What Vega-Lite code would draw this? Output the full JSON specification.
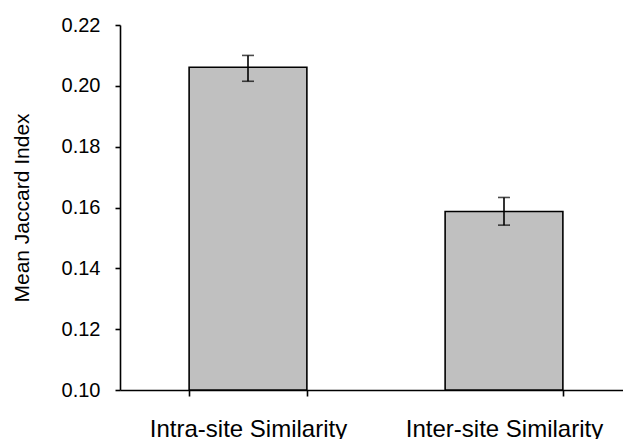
{
  "$schema": "https://vega.github.io/schema/vega-lite/v6.json",
  "width": 503,
  "height": 365,
  "autosize": {"type": "none"},
  "padding": {"left": 120, "top": 25, "right": 0, "bottom": 49},
  "background": "white",
  "data": {
    "values": [
      {"category": "Intra-site Similarity", "mean": 0.2061, "lo": 0.2015, "hi": 0.2100},
      {"category": "Inter-site Similarity", "mean": 0.1587, "lo": 0.1542, "hi": 0.1633}
    ]
  },
  "encoding": {
    "x": {
      "field": "category",
      "type": "nominal",
      "sort": null,
      "scale": {"range": [0, 512], "paddingInner": 0.54, "paddingOuter": 0.27},
      "axis": {
        "title": null,
        "labelAngle": 0,
        "tickBand": "extent",
        "tickSize": 6,
        "labelPadding": 40,
        "labelFontSize": 24,
        "labelLimit": 0,
        "labelBaseline": "alphabetic"
      }
    }
  },
  "layer": [
    {
      "mark": {"type": "bar", "fill": "#C0C0C0", "stroke": "#000000", "strokeWidth": 1.6},
      "encoding": {
        "y": {
          "field": "mean",
          "type": "quantitative",
          "scale": {"domain": [0.1, 0.22], "nice": false, "zero": false},
          "axis": {
            "title": "Mean Jaccard Index",
            "values": [0.1, 0.12, 0.14, 0.16, 0.18, 0.2, 0.22],
            "format": ".2f",
            "tickSize": 5,
            "labelPadding": 15,
            "labelFontSize": 20,
            "titleFontSize": 21,
            "titleFontWeight": "normal",
            "titlePadding": 29
          }
        },
        "y2": {"datum": 0.1}
      }
    },
    {
      "mark": {"type": "rule", "stroke": "#000000", "strokeWidth": 1.6},
      "encoding": {
        "y": {"field": "lo", "type": "quantitative"},
        "y2": {"field": "hi"}
      }
    },
    {
      "mark": {"type": "tick", "color": "#000000", "size": 12, "thickness": 1.6},
      "encoding": {"y": {"field": "lo", "type": "quantitative"}}
    },
    {
      "mark": {"type": "tick", "color": "#000000", "size": 12, "thickness": 1.6},
      "encoding": {"y": {"field": "hi", "type": "quantitative"}}
    }
  ],
  "config": {
    "view": {"stroke": null},
    "font": "Liberation Sans",
    "axis": {
      "grid": false,
      "domainColor": "#000000",
      "domainWidth": 1.6,
      "tickColor": "#000000",
      "tickWidth": 1.6,
      "labelColor": "#000000",
      "titleColor": "#000000",
      "labelFont": "Liberation Sans",
      "titleFont": "Liberation Sans"
    }
  }
}
